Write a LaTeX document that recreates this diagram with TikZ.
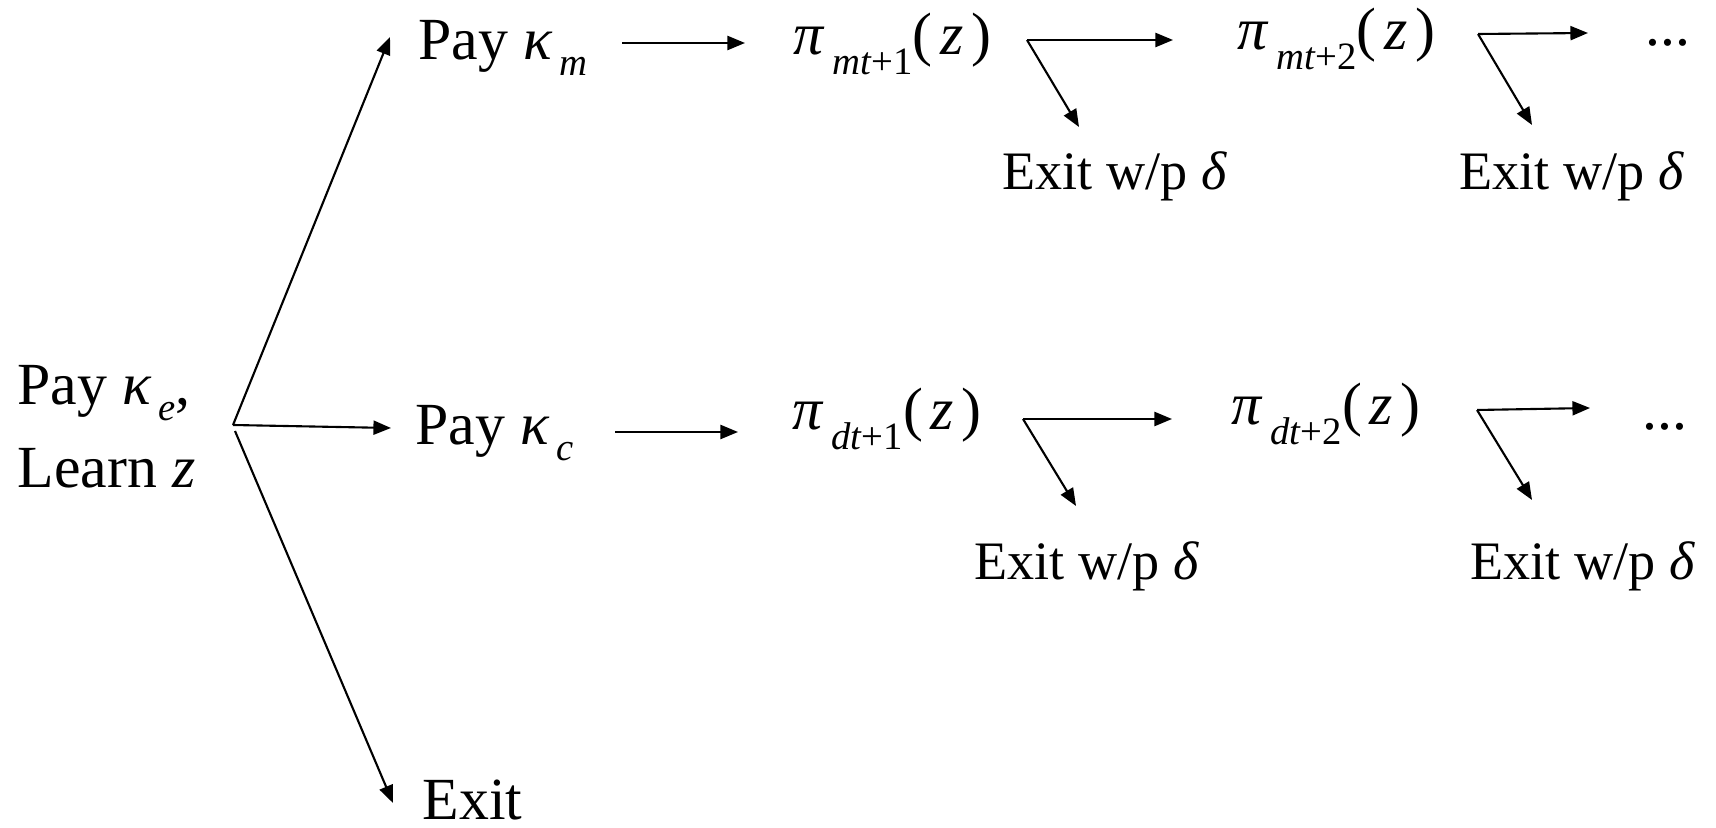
\documentclass[tikz,border=0pt]{standalone}
\usepackage{fontspec}
\setmainfont{Liberation Serif}
\usetikzlibrary{arrows.meta}
\newcommand\sbx[2][4.5pt]{\kern2pt\raisebox{-#1}{\fontsize{11pt}{12pt}\selectfont #2}}
\newcommand\pis[1]{\textit{π}\sbx[5.5pt]{#1}(\kern2.2pt\textit{z}\kern2.2pt)}
\begin{document}
\begin{tikzpicture}[x=0.01cm,y=-0.01cm,
  lbl/.style={inner sep=0pt, anchor=base west, font=\fontsize{17pt}{20pt}\selectfont},
  small/.style={inner sep=0pt, anchor=base west, font=\fontsize{15.4pt}{18pt}\selectfont},
  arr/.style={-{Triangle[length=5pt,width=4pt]}, line width=0.6pt}]
\useasboundingbox (0,0) rectangle (1716,828);
% root
\node[lbl] (rootA) at (17,405) {Pay \textit{κ}\sbx{\textit{e}},};
\node[lbl] (rootB) at (17,488) {Learn \textit{z}};
\coordinate (j0) at (233,425);
\coordinate (j0b) at (235,431);
\coordinate (t0) at (390,37);
\coordinate (t1) at (391,428);
\coordinate (t2) at (393,803);
\draw[arr] (j0) -- (t0);
\draw[arr] (j0) -- (t1);
\draw[arr] (j0b) -- (t2);
% top row
\node[lbl] (paym) at (418,60) {Pay \textit{κ}\sbx{\textit{m}}};
\coordinate (am1) at (622,43);
\coordinate (am2) at (745,43);
\draw[arr] (am1) -- (am2);
\node[lbl] (pim1) at (793,55) {\pis{\textit{mt}+1}};
\coordinate (j1) at (1027,40);
\coordinate (h1) at (1173,40);
\coordinate (d1) at (1079,127);
\draw[arr] (j1) -- (h1);
\draw[arr] (j1) -- (d1);
\node[small] (ex1) at (1002,190) {Exit w/p \textit{δ}};
\node[lbl] (pim2) at (1237,50) {\pis{\textit{mt}+2}};
\coordinate (j2) at (1478,34);
\coordinate (h2) at (1588,33);
\coordinate (d2) at (1532,125);
\draw[arr] (j2) -- (h2);
\draw[arr] (j2) -- (d2);
\node[lbl] (dots1) at (1645,46) {...};
\node[small] (ex2) at (1459,190) {Exit w/p \textit{δ}};
% middle row
\node[lbl] (payc) at (415,445) {Pay \textit{κ}\sbx{\textit{c}}};
\coordinate (ac1) at (615,432);
\coordinate (ac2) at (738,432);
\draw[arr] (ac1) -- (ac2);
\node[lbl] (pid1) at (792,430) {\pis{\textit{dt}+1}};
\coordinate (j3) at (1023,419);
\coordinate (h3) at (1172,419);
\coordinate (d3) at (1076,506);
\draw[arr] (j3) -- (h3);
\draw[arr] (j3) -- (d3);
\node[small] (ex3) at (974,580) {Exit w/p \textit{δ}};
\node[lbl] (pid2) at (1231,425) {\pis{\textit{dt}+2}};
\coordinate (j4) at (1477,410);
\coordinate (h4) at (1590,408);
\coordinate (d4) at (1532,500);
\draw[arr] (j4) -- (h4);
\draw[arr] (j4) -- (d4);
\node[lbl] (dots2) at (1642,430) {...};
\node[small] (ex4) at (1470,580) {Exit w/p \textit{δ}};
% bottom
\node[lbl] (exit) at (422,819) {Exit};
\end{tikzpicture}
\end{document}
